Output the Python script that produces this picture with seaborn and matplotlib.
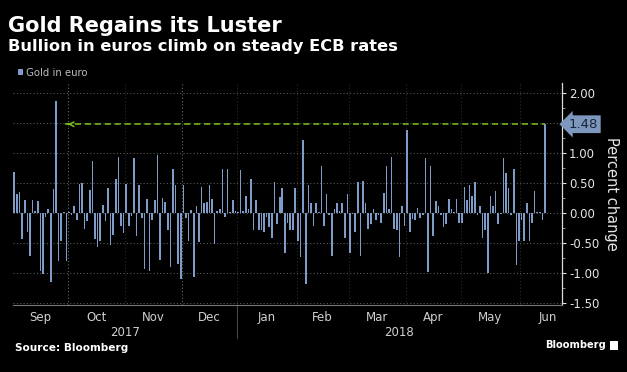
import numpy as np
import pandas as pd
import matplotlib
matplotlib.use("Agg")
import matplotlib.pyplot as plt
import matplotlib.transforms as mtransforms
from matplotlib.ticker import MultipleLocator, FixedLocator, FuncFormatter
from matplotlib.patches import Rectangle
import seaborn as sns

# ---------------- data ----------------
series_name = "Gold in euro"
start_date = "2017-09-01"
gold_eur_pct = [
    0.69, 0.31, 0.35, -0.43, 0.22, -0.31, -0.72, 0.22, 0.03, 0.20,
    -0.96, -1.01, -0.06, 0.07, -1.15, 0.40, 1.87, -0.80, -0.46, 0.02,
    -0.80, 0.01, -0.04, 0.12, -0.11, 0.49, 0.50, -0.26, -0.13, 0.39,
    0.86, -0.43, -0.56, -0.46, 0.14, -0.14,
    0.42, -0.54, -0.37, 0.57, 0.94, -0.22, -0.33, 0.49, -0.22, -0.05,
    0.92, -0.38, 0.46, -0.08, -0.94, 0.24, -0.97, -0.11, 0.22, 0.97,
    -0.78, 0.25, 0.19, -0.28, -0.90, 0.74, 0.46, -0.85, -1.10, 0.47,
    -0.08, -0.47, 0.05, -1.07,
    0.12, -0.49, 0.44, 0.17, 0.19, 0.46, 0.24, -0.52, 0.04, 0.07,
    0.74, -0.06, 0.74, 0.02, 0.22, 0.04, 0.02, 0.71, 0.04, 0.29,
    0.07, 0.57, -0.29, 0.22, -0.29, -0.28, -0.32, -0.07, -0.24, -0.42,
    0.51, -0.18, 0.26, 0.41, -0.66,
    -0.17, -0.29, -0.28, 0.41, -0.47, -0.74, 1.22, -1.19, 0.47, 0.17,
    -0.22, 0.16, 0.02, 0.79, -0.22, 0.31, -0.04, -0.71, 0.07, 0.17,
    0.04, 0.17, -0.42, 0.32, -0.67, -0.02, -0.31, 0.52, -0.72, 0.54,
    0.17, -0.26, -0.19, 0.06,
    -0.12, -0.04, -0.16, 0.34, 0.79, 0.06, 0.94, -0.26, -0.29, -0.74,
    0.11, -0.21, 1.39, -0.31, -0.10, -0.11, 0.09, -0.09, -0.04, 0.92,
    -0.99, 0.79, -0.38, 0.20, 0.11, -0.04, -0.24, -0.19, 0.24, 0.06,
    0.01, 0.24, -0.16, -0.16, 0.43,
    0.22, 0.46, 0.29, 0.52, -0.04, 0.12, -0.41, -0.28, -1.00, 0.28,
    0.11, 0.37, -0.19, -0.02, 0.91, 0.67, 0.41, -0.04, 0.74, -0.86,
    -0.46, -0.11, -0.46, 0.17, -0.46, -0.16, 0.37, 0.01, 0.01, -0.12,
    1.48,
]
month_labels = ["Sep", "Oct", "Nov", "Dec", "Jan", "Feb", "Mar", "Apr", "May", "Jun"]
year_labels = ["2017", "2018"]
y_ticks = [-1.5, -1.0, -0.5, 0.0, 0.5, 1.0, 1.5, 2.0]

title = "Gold Regains its Luster"
subtitle = "Bullion in euros climb on steady ECB rates"
y_label = "Percent change"
source = "Source: Bloomberg"

# ---------------- style ----------------
BG = "black"
BAR = "#7f9cc8"
GREEN = "#7cc11e"
GRID = "#5a5a5a"

sns.set_theme(style="dark")
plt.rcParams["font.family"] = ["DejaVu Sans"]

dates = pd.bdate_range(start_date, periods=len(gold_eur_pct))
df = pd.DataFrame({"idx": np.arange(len(dates)), "pct": gold_eur_pct, "date": dates})
n = len(df)

W, H = 627, 372
fig = plt.figure(figsize=(W / 100, H / 100), dpi=100, facecolor=BG)
ax = fig.add_axes([13 / W, 1 - 305 / H, (562 - 13) / W, (305 - 83) / H])
ax.set_facecolor(BG)

sns.barplot(data=df, x="idx", y="pct", native_scale=True, color=BAR,
            saturation=1, width=0.62, errorbar=None, linewidth=0,
            edgecolor="none", ax=ax, zorder=3)

x_left, x_right = -0.5, (n - 1) + 6.5
ax.set_xlim(x_left, x_right)
ax.set_ylim(-1.533, 2.167)

# month layout on the business-day index axis
full = pd.bdate_range(start_date, "2018-06-29")
pos = pd.Series(np.arange(len(full)), index=full)
grp = pos.groupby([full.year, full.month])
first, last = grp.min().values, grp.max().values
centers = (first + last) / 2.0
bounds = first[1:] - 0.5

ax.set_xticks(centers)
ax.set_xticklabels(month_labels)
ax.xaxis.set_minor_locator(FixedLocator(bounds))
ax.tick_params(axis="x", which="major", length=0, pad=4, labelsize=8.5,
               labelcolor="#d0d0d0")
ax.tick_params(axis="x", which="minor", length=3, width=0.8, color="#888888",
               direction="out")
ax.set_xlabel("")

# vertical month gridlines
for i, b in enumerate(bounds):
    bright = i in (0, 2)
    ax.axvline(b, color="#6a6a6a" if bright else "#2c2c2c", lw=0.8,
               ls=(0, (1, 2)), zorder=1)

# year separator and labels
jan_b = bounds[3]
ax.axvline(jan_b, ymin=-0.15, ymax=0, color="#444444", lw=0.8, clip_on=False)
trans = mtransforms.blended_transform_factory(ax.transData, ax.transAxes)
ax.text((x_left + jan_b) / 2, -0.122, year_labels[0], transform=trans,
        ha="center", va="center", fontsize=8.5, color="#d0d0d0")
ax.text((jan_b + x_right) / 2, -0.122, year_labels[1], transform=trans,
        ha="center", va="center", fontsize=8.5, color="#d0d0d0")

# y axis on the right (the 1.50 label is covered by the value flag)
last_val = gold_eur_pct[-1]
ax.yaxis.tick_right()
ax.set_yticks(y_ticks)
ax.yaxis.set_major_formatter(FuncFormatter(
    lambda v, p: "" if abs(v - last_val) < 0.1 else f"{v:.2f}"))
ax.yaxis.set_minor_locator(MultipleLocator(0.25))
ax.tick_params(axis="y", which="major", length=3, width=0.8, color="#dddddd",
               pad=2, labelsize=8.5, labelcolor="#e6e6e6")
ax.tick_params(axis="y", which="minor", length=2, width=0.6, color="#aaaaaa")
ax.set_ylabel("")
for yv in y_ticks:
    ax.axhline(yv, color=GRID, lw=0.8, ls=(0, (1, 2)), zorder=1)

for s in ("left", "top"):
    ax.spines[s].set_visible(False)
ax.spines["right"].set_color("#dddddd")
ax.spines["right"].set_linewidth(0.9)
ax.spines["bottom"].set_color("#777777")
ax.spines["bottom"].set_linewidth(0.8)
ax.grid(False)

fig.text(612 / W, 1 - 194 / H, y_label, rotation=270, ha="center",
         va="center", fontsize=10.5, color="#e6e6e6")

# "highest since" annotation
prev_idx = max(i for i, v in enumerate(gold_eur_pct[:-1]) if v > last_val)
tip = prev_idx + 3.5
ax.plot([tip, n - 1], [last_val, last_val], color=GREEN, lw=1.1,
        ls=(0, (4, 2.5)), zorder=4)
ax.annotate("", xy=(tip, last_val), xytext=(tip + 2.5, last_val),
            arrowprops=dict(arrowstyle="->", color=GREEN, lw=1.1,
                            mutation_scale=8), zorder=4)
ax.annotate(f"{last_val:.2f}", xy=(1.0, last_val),
            xycoords=("axes fraction", "data"), xytext=(5, 0),
            textcoords="offset points", ha="left", va="center",
            fontsize=9.5, color="#16253a", zorder=6, annotation_clip=False,
            bbox=dict(boxstyle="larrow,pad=0.18", fc="#7e97bd", ec="none"))

# titles & legend
fig.text(8 / W, 1 - 32 / H, title, fontsize=15, fontweight="bold",
         color="white", va="baseline", ha="left")
fig.text(8 / W, 1 - 51 / H, subtitle, fontsize=11.7, fontweight="bold",
         color="white", va="baseline", ha="left")
fig.patches.append(Rectangle((18 / W, 1 - 75 / H), 5 / W, 6 / H,
                             transform=fig.transFigure, fc=BAR, ec="none"))
fig.text(26 / W, 1 - 75.5 / H, series_name, fontsize=7.3, color="#bdbdbd",
         va="baseline", ha="left")

fig.text(15 / W, 1 - 348 / H, source, fontsize=7.6, fontweight="bold",
         color="white", va="center", ha="left")
fig.text(606 / W, 1 - 345 / H, "Bloomberg", fontsize=7.1, fontweight="bold",
         color="white", va="center", ha="right")
fig.patches.append(Rectangle((610 / W, 1 - 350 / H), 8 / W, 9 / H,
                             transform=fig.transFigure, fc="white", ec="none"))

fig.savefig("out.png", dpi=100, facecolor=BG)
